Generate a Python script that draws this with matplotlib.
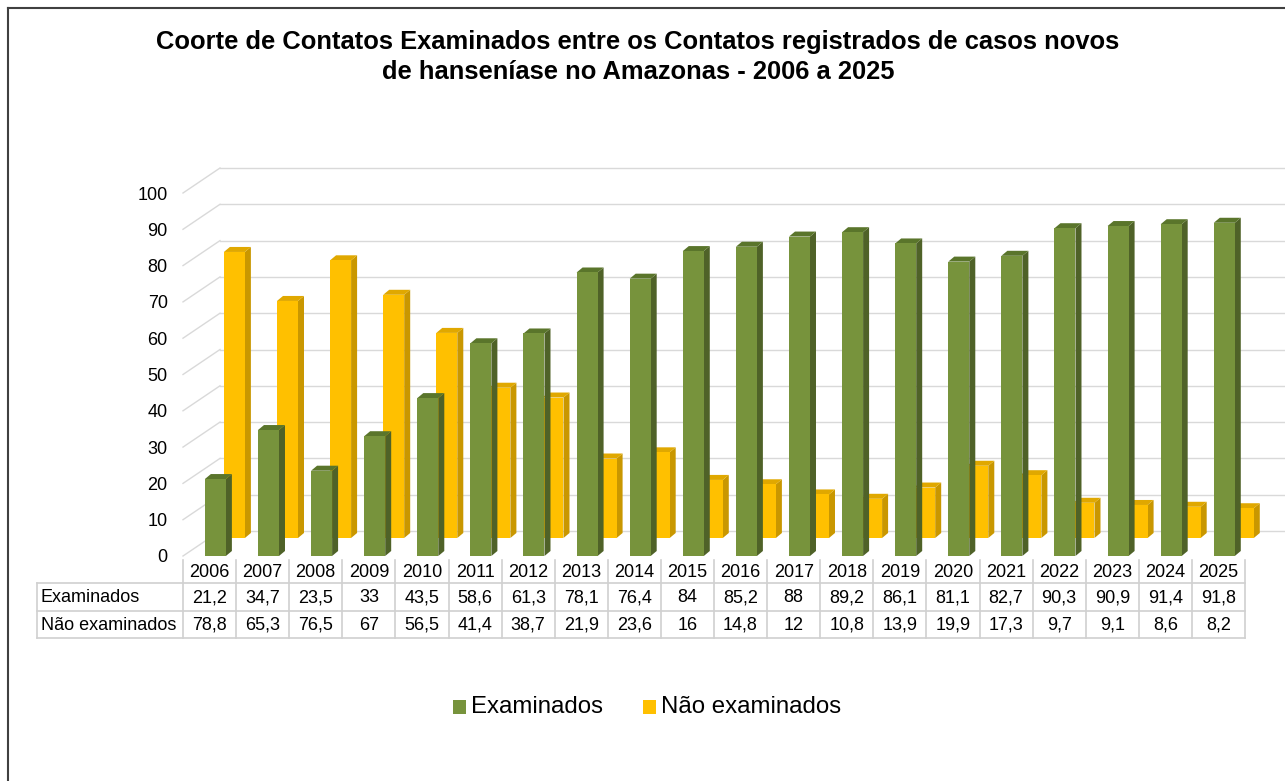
import matplotlib
matplotlib.use("Agg")
import matplotlib.pyplot as plt
from matplotlib.patches import Polygon, Rectangle
from matplotlib.transforms import blended_transform_factory
import numpy as np

plt.rcParams['font.family'] = ['Liberation Sans', 'DejaVu Sans']

years = ['2006', '2007', '2008', '2009', '2010', '2011', '2012', '2013', '2014', '2015',
         '2016', '2017', '2018', '2019', '2020', '2021', '2022', '2023', '2024', '2025']
examinados = [21.2, 34.7, 23.5, 33, 43.5, 58.6, 61.3, 78.1, 76.4, 84,
              85.2, 88, 89.2, 86.1, 81.1, 82.7, 90.3, 90.9, 91.4, 91.8]
nao_examinados = [78.8, 65.3, 76.5, 67, 56.5, 41.4, 38.7, 21.9, 23.6, 16,
                  14.8, 12, 10.8, 13.9, 19.9, 17.3, 9.7, 9.1, 8.6, 8.2]
series_names = ['Examinados', 'Não examinados']
yticks = list(range(0, 101, 10))

title = ("Coorte de Contatos Examinados entre os Contatos registrados de casos novos\n"
         "de hanseníase no Amazonas - 2006 a 2025")

W, H = 1285, 781
fig = plt.figure(figsize=(W / 100, H / 100), dpi=100)

# pixel geometry
PX_CAT = 53.1          # pixels per category
PX_VAL = 3.63          # pixels per value unit
x_left_px = 183        # left edge of category 2006 cell
y0_px = 556            # value 0 (front)
top_px = 150

ax = fig.add_axes([x_left_px / W, (H - y0_px) / H, (W - x_left_px) / W, (y0_px - top_px) / H])
ax.set_xlim(-0.5, -0.5 + (W - x_left_px) / PX_CAT)
ax.set_ylim(0, (y0_px - top_px) / PX_VAL)
for s in ax.spines.values():
    s.set_visible(False)
ax.set_xticks([])
ax.set_yticks(yticks)
ax.set_yticklabels([str(v) for v in yticks], fontsize=13)
ax.tick_params(axis='y', length=0, pad=11)
ax.patch.set_visible(False)

# 3D offsets
wall_dx = 37 / PX_CAT
wall_dy = 25 / PX_VAL
depth_dx = 6 / PX_CAT
depth_dy = 5 / PX_VAL
row_dx = 19 / PX_CAT
row_dy = 18 / PX_VAL
bar_w = 21 / PX_CAT
green_off = 0.11

grid_col = '#d9d9d9'
# back wall gridlines and left wall diagonals
for v in yticks:
    ax.plot([-0.5 + wall_dx, ax.get_xlim()[1]], [v + wall_dy, v + wall_dy],
            color=grid_col, lw=1.0, zorder=1, clip_on=False)
    ax.plot([-0.5, -0.5 + wall_dx], [v, v + wall_dy], color=grid_col, lw=1.0,
            zorder=1, clip_on=False)


def bar3d(xc, base, val, front, side, top, z):
    xl, xr = xc - bar_w / 2, xc + bar_w / 2
    yt = base + val
    ax.add_patch(Polygon([(xr, base), (xr + depth_dx, base + depth_dy),
                          (xr + depth_dx, yt + depth_dy), (xr, yt)],
                         closed=True, fc=side, ec='none', zorder=z, clip_on=False))
    ax.add_patch(Polygon([(xl, yt), (xl + depth_dx, yt + depth_dy),
                          (xr + depth_dx, yt + depth_dy), (xr, yt)],
                         closed=True, fc=top, ec='none', zorder=z, clip_on=False))
    ax.bar(xc, val, width=bar_w, bottom=base, color=front, zorder=z + 0.1,
           clip_on=False, linewidth=0)


x = np.arange(len(years))
# back row: Não examinados
for i, v in enumerate(nao_examinados):
    bar3d(x[i] + green_off + row_dx, row_dy, v, '#FFC000', '#C99700', '#E0A800', 3)
# front row: Examinados
for i, v in enumerate(examinados):
    bar3d(x[i] + green_off, 0, v, '#77933C', '#4F6228', '#5A752B', 5)

# ---- data table ----
tcol = '#d0d0d0'


def fy(px):
    return (H - px) / H


trans = blended_transform_factory(ax.transData, fig.transFigure)
row_y = [560, 583, 611, 638]
tab_left = 37 / W
x_edges = np.arange(len(years) + 1) - 0.5
for yy in row_y[1:]:
    fig.add_artist(plt.Line2D([tab_left, (x_left_px + len(years) * PX_CAT) / W], [fy(yy), fy(yy)],
                              color=tcol, lw=1.2))
for xe in x_edges:
    ax.plot([xe, xe], [fy(row_y[0]), fy(row_y[-1])], transform=trans, color=tcol,
            lw=1.2, clip_on=False)
fig.add_artist(plt.Line2D([tab_left, tab_left], [fy(row_y[1]), fy(row_y[-1])], color=tcol, lw=1.2))

fs_tab = 13
for i, yr in enumerate(years):
    ax.text(x[i], fy((row_y[0] + row_y[1]) / 2 + 1), yr, transform=trans, ha='center', va='center',
            fontsize=fs_tab)
    ax.text(x[i], fy((row_y[1] + row_y[2]) / 2 + 1), f"{examinados[i]:g}".replace('.', ','),
            transform=trans, ha='center', va='center', fontsize=fs_tab)
    ax.text(x[i], fy((row_y[2] + row_y[3]) / 2 + 1), f"{nao_examinados[i]:g}".replace('.', ','),
            transform=trans, ha='center', va='center', fontsize=fs_tab)
fig.text(41 / W, fy((row_y[1] + row_y[2]) / 2 + 1), series_names[0], ha='left', va='center', fontsize=fs_tab)
fig.text(41 / W, fy((row_y[2] + row_y[3]) / 2 + 1), series_names[1], ha='left', va='center', fontsize=fs_tab)

# ---- title ----
fig.text(638 / W, fy(57), title, ha='center', va='center', fontsize=18.4, fontweight='bold',
         linespacing=1.27)

# ---- legend ----
leg_fs = 17.3
fig.add_artist(Rectangle((453 / W, fy(714)), 13 / W, 14 / H, fc='#77933C', ec='none'))
fig.text(471 / W, fy(707), series_names[0], ha='left', va='center', fontsize=leg_fs)
fig.add_artist(Rectangle((643 / W, fy(714)), 13 / W, 14 / H, fc='#FFC000', ec='none'))
fig.text(661 / W, fy(707), series_names[1], ha='left', va='center', fontsize=leg_fs)

# ---- outer frame ----
fig.add_artist(plt.Line2D([7.5 / W, 7.5 / W], [0, fy(8)], color='#404040', lw=1.5))
fig.add_artist(plt.Line2D([7.5 / W, 1], [fy(8), fy(8)], color='#404040', lw=1.5))

fig.savefig('out.png', dpi=100)
